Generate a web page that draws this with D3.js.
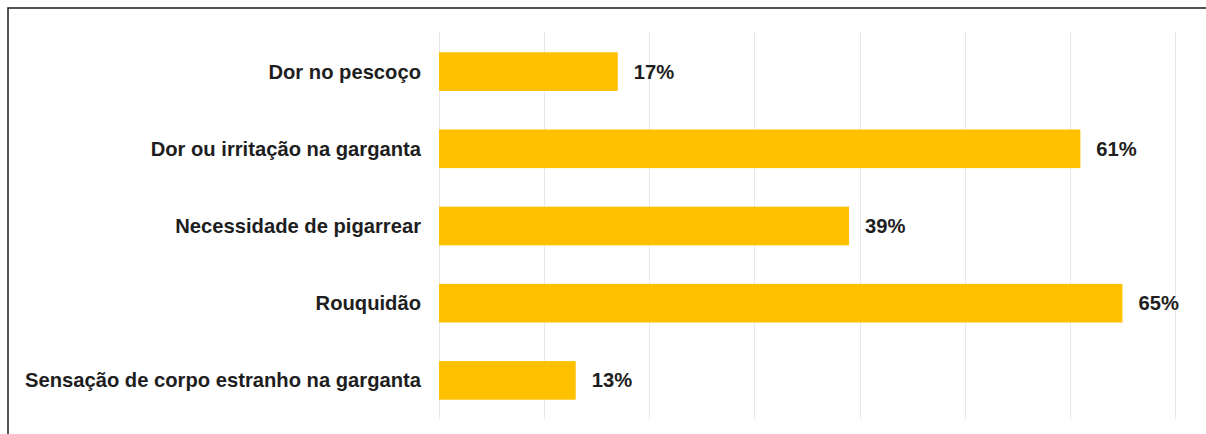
<!DOCTYPE html>
<html>
<head>
<meta charset="utf-8">
<script src="https://cdn.jsdelivr.net/npm/d3@7"></script>
<style>
  html, body { margin: 0; padding: 0; background: #fff; overflow: hidden; }
  svg { display: block; }
</style>
</head>
<body>
<svg id="chart" width="1206" height="434"></svg>
<script>
// Symptom categories and their share of respondents (%)
const categories = [
  "Dor no pescoço",
  "Dor ou irritação na garganta",
  "Necessidade de pigarrear",
  "Rouquidão",
  "Sensação de corpo estranho na garganta"
];
const values = [17, 61, 39, 65, 13];
const gridTicks = [0, 10, 20, 30, 40, 50, 60, 70];

const svg = d3.select("#chart");
const W = 1206, H = 434;

// Frame around the chart (runs off the right and bottom edges)
svg.append("rect")
  .attr("x", 8).attr("y", 8)
  .attr("width", W + 20).attr("height", H + 20)
  .attr("fill", "#fff")
  .attr("stroke", "#2b2b2b")
  .attr("stroke-width", 1.6);

const x = d3.scaleLinear().domain([0, 70]).range([439, 1175]);
const y = d3.scaleBand().domain(categories).range([33, 419])
  .paddingInner(0.5).paddingOuter(0.25);

// Vertical gridlines
svg.append("g")
  .selectAll("line")
  .data(gridTicks)
  .join("line")
  .attr("x1", d => Math.round(x(d)) + 0.5)
  .attr("x2", d => Math.round(x(d)) + 0.5)
  .attr("y1", 32).attr("y2", 419)
  .attr("stroke", "#e8e8e8")
  .attr("stroke-width", 1);

// Bars
svg.append("g")
  .selectAll("rect")
  .data(categories)
  .join("rect")
  .attr("x", x(0))
  .attr("y", d => y(d))
  .attr("width", (d, i) => x(values[i]) - x(0))
  .attr("height", y.bandwidth())
  .attr("fill", "#FFC000");

// Category labels
svg.append("g")
  .selectAll("text")
  .data(categories)
  .join("text")
  .attr("x", x(0) - 18)
  .attr("y", d => y(d) + y.bandwidth() / 2)
  .attr("dy", "0.35em")
  .attr("text-anchor", "end")
  .attr("font-family", "Liberation Sans, Arial, sans-serif")
  .attr("font-weight", "bold")
  .attr("font-size", "20.2px")
  .attr("fill", "#1e1e1e")
  .text(d => d);

// Value labels
svg.append("g")
  .selectAll("text")
  .data(categories)
  .join("text")
  .attr("x", (d, i) => x(values[i]) + 16)
  .attr("y", d => y(d) + y.bandwidth() / 2)
  .attr("dy", "0.35em")
  .attr("font-family", "Liberation Sans, Arial, sans-serif")
  .attr("font-weight", "bold")
  .attr("font-size", "20.2px")
  .attr("fill", "#1e1e1e")
  .text((d, i) => values[i] + "%");
</script>
</body>
</html>
